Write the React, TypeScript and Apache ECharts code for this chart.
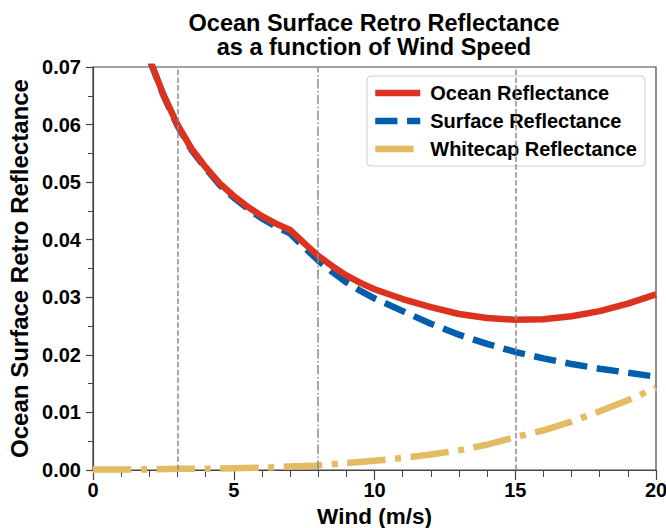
import React, { useEffect, useRef } from "react";
import * as echarts from "echarts";

const windX = [2, 2.5, 3, 3.5, 4, 4.5, 5, 5.5, 6, 6.5, 7, 7.5, 8, 8.5, 9, 9.5, 10, 11, 12, 13, 14, 15, 16, 17, 18, 19, 20];
const oceanRefl = [0.0715, 0.0652, 0.06, 0.0558, 0.0526, 0.0498, 0.0476, 0.0457, 0.0441, 0.0428, 0.0417, 0.0394, 0.0372, 0.0354, 0.0338, 0.0325, 0.0314, 0.0297, 0.0283, 0.0271, 0.0264, 0.0261, 0.0262, 0.0267, 0.0276, 0.0289, 0.0305];
const surfaceRefl = [0.0714, 0.0651, 0.0598, 0.0556, 0.0524, 0.0495, 0.0473, 0.0454, 0.0437, 0.0423, 0.0411, 0.0387, 0.0364, 0.0344, 0.0326, 0.0311, 0.0298, 0.0276, 0.0254, 0.0235, 0.0219, 0.0205, 0.0194, 0.0184, 0.0176, 0.0169, 0.0162];
const whitecapX = [0, 1, 2, 3, 4, 5, 6, 7, 8, 9, 10, 11, 12, 13, 14, 15, 16, 17, 18, 19, 20];
const whitecapRefl = [0.0001, 0.0001, 0.0001, 0.0002, 0.0002, 0.0003, 0.0004, 0.0006, 0.0008, 0.0012, 0.0016, 0.0021, 0.0027, 0.0034, 0.0044, 0.0057, 0.0069, 0.0084, 0.0102, 0.0121, 0.0143];
const dashedMarks = [3, 15];
const dashDotMarks = [8];

const FONT = "'Liberation Sans', Arial, Helvetica, sans-serif";

export default function App() {
  const ref = useRef<HTMLDivElement>(null);
  useEffect(() => {
    if (!ref.current) return;
    const chart = echarts.init(ref.current, undefined, { renderer: "svg" });
    const zip = (xs: number[], ys: number[]) => xs.map((x, i) => [x, ys[i]]);
    const vlineData = [
      ...dashedMarks.map((v) => ({ xAxis: v, lineStyle: { type: [5.5, 2.4], color: "#8c8c8c", width: 1.5 } })),
      ...dashDotMarks.map((v) => ({ xAxis: v, lineStyle: { type: [9.6, 2.4, 1.5, 2.4], color: "#8c8c8c", width: 1.5 } })),
    ];
    chart.setOption({
      animation: false,
      textStyle: { fontFamily: FONT },
      title: {
        text: "Ocean Surface Retro Reflectance\nas a function of Wind Speed",
        left: 374,
        top: 11,
        padding: 0,
        textAlign: "center",
        textStyle: { fontFamily: FONT, fontWeight: "bold", fontSize: 23.5, color: "#000", lineHeight: 24 },
      },
      grid: {
        left: 93,
        right: 10,
        top: 67,
        bottom: 58,
        outerBoundsMode: "none",
        containLabel: false,
        show: true,
        borderColor: "#444",
        borderWidth: 1.2,
        backgroundColor: "transparent",
      },
      legend: {
        data: ["Ocean Reflectance", "Surface Reflectance", "Whitecap Reflectance"],
        orient: "vertical",
        left: 367,
        top: 76,
        itemWidth: 45,
        itemHeight: 14,
        itemGap: 8,
        padding: [7, 8, 7, 5],
        backgroundColor: "rgba(255,255,255,0.8)",
        borderColor: "#cccccc",
        borderWidth: 1,
        borderRadius: 4,
        itemStyle: { color: "rgba(0,0,0,0)", opacity: 0, borderWidth: 0 },
        lineStyle: { width: 6.5 },
        textStyle: { fontFamily: FONT, fontWeight: "bold", fontSize: 20, color: "#000", padding: [0, 0, 0, 5] },
      },
      xAxis: {
        type: "value",
        min: 0,
        max: 20,
        interval: 5,
        name: "Wind (m/s)",
        nameLocation: "middle",
        nameGap: 28,
        nameTextStyle: { fontFamily: FONT, fontWeight: "bold", fontSize: 22.5, lineHeight: 24, color: "#000" },
        axisLine: { show: true, lineStyle: { color: "#444", width: 1.2 } },
        axisTick: { show: true, length: 10, lineStyle: { color: "#444", width: 1.2 } },
        minorTick: { show: true, splitNumber: 5, length: 7, lineStyle: { color: "#444", width: 1 } },
        splitLine: { show: false },
        axisLabel: { fontFamily: FONT, fontWeight: "bold", fontSize: 20, color: "#000", margin: 10 },
      },
      yAxis: {
        type: "value",
        min: 0,
        max: 0.07,
        interval: 0.01,
        name: "Ocean Surface Retro Reflectance",
        nameLocation: "middle",
        nameGap: 62,
        nameTextStyle: { fontFamily: FONT, fontWeight: "bold", fontSize: 24, color: "#000" },
        axisLine: { show: true, lineStyle: { color: "#444", width: 1.2 } },
        axisTick: { show: true, length: 7, lineStyle: { color: "#444", width: 1.2 } },
        minorTick: { show: true, splitNumber: 2, length: 5, lineStyle: { color: "#444", width: 1 } },
        splitLine: { show: false },
        axisLabel: { fontFamily: FONT, fontWeight: "bold", fontSize: 20, color: "#000", margin: 12, formatter: (v: number) => v.toFixed(2) },
      },
      series: [
        {
          name: "vlines",
          type: "line",
          data: [],
          silent: true,
          z: 1,
          markLine: { symbol: "none", silent: true, label: { show: false }, data: vlineData, animation: false },
        },
        {
          name: "Whitecap Reflectance",
          type: "line",
          data: zip(whitecapX, whitecapRefl),
          showSymbol: false,
          symbol: "none",
          z: 2,
          lineStyle: { color: "#e2bb62", width: 6.5, type: [38.4, 9.6, 6, 9.6] },
          itemStyle: { color: "#e2bb62" },
        },
        {
          name: "Surface Reflectance",
          type: "line",
          data: zip(windX, surfaceRefl),
          showSymbol: false,
          symbol: "none",
          z: 3,
          lineStyle: { color: "#005eac", width: 6.5, type: [22.2, 9.6] },
          itemStyle: { color: "#005eac" },
        },
        {
          name: "Ocean Reflectance",
          type: "line",
          data: zip(windX, oceanRefl),
          showSymbol: false,
          symbol: "none",
          z: 4,
          lineStyle: { color: "#dc3220", width: 6.5 },
          itemStyle: { color: "#dc3220" },
        },
      ],
    });
    return () => chart.dispose();
  }, []);
  return <div ref={ref} style={{ width: 666, height: 528, position: "absolute", left: 0, top: 0 }} />;
}
